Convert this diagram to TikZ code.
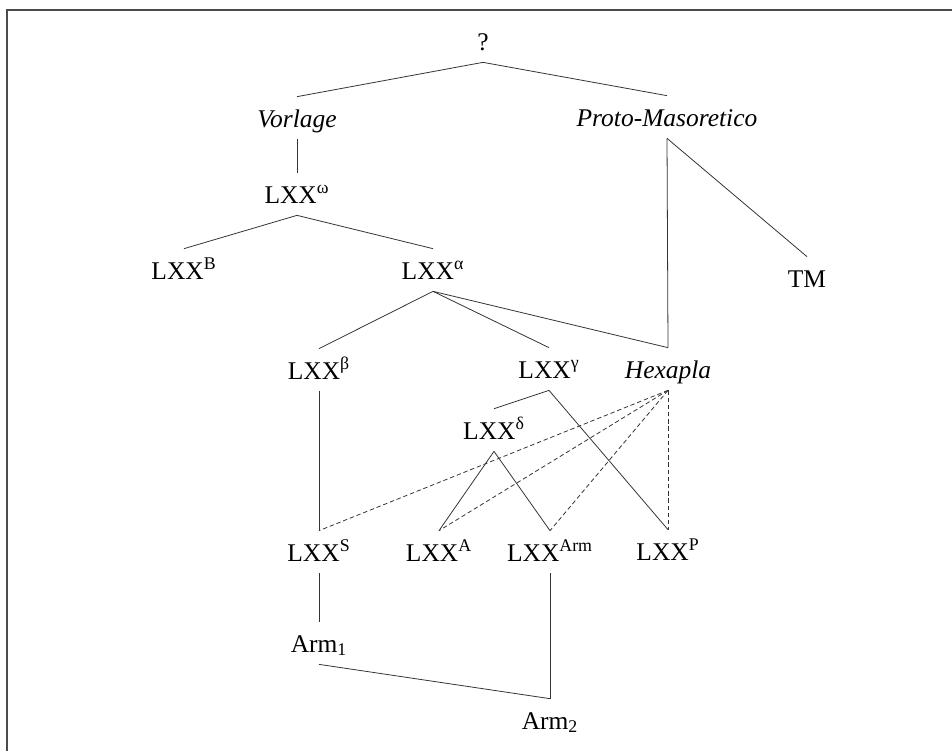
\documentclass[tikz,border=0pt]{standalone}
\usepackage{fontspec}
\setmainfont{Liberation Serif}
\begin{document}
\begin{tikzpicture}[x=0.02cm, y=-0.02cm,
   every node/.style={font=\fontsize{14.5}{17}\selectfont, text height=0.46cm,
                      text depth=0.1cm, inner ysep=0.14cm, inner xsep=0pt},
   link/.style={draw=black!80, line width=0.45pt},
   hexlink/.style={link, dash pattern=on 2.5pt off 1.6pt}]

\useasboundingbox (0,0) rectangle (952,751);
\draw[black!70, line width=0.8pt] (952,10) -- (7,10) -- (7,751);

\node (q)       at (483,41)  {?};
\node (vorlage) at (297,118) {\itshape Vorlage};
\node (proto)   at (667,117) {\itshape Proto-Masoretico};
\node (omega)   at (297,194) {LXX\textsuperscript{ω}};
\node (lxxB)    at (184,270) {LXX\textsuperscript{B}};
\node (alpha)   at (433,270) {LXX\textsuperscript{α}};
\node (tm)      at (807,278) {TM};
\node (beta)    at (319,370) {LXX\textsuperscript{β}};
\node (gamma)   at (549,369) {LXX\textsuperscript{γ}};
\node (hexapla) at (668,369) {\itshape Hexapla};
\node (delta)   at (494,430) {LXX\textsuperscript{δ}};
\node (lxxS)    at (319,552) {LXX\textsuperscript{S}};
\node (lxxA)    at (439,552) {LXX\textsuperscript{A}};
\node (lxxArm)  at (550,552) {LXX\textsuperscript{Arm}};
\node (lxxP)    at (668,551) {LXX\textsuperscript{P}};
\node (arm1)    at (319,643) {Arm\textsubscript{1}};
\node (arm2)    at (550,720) {Arm\textsubscript{2}};

\draw[link] (q.south) -- (vorlage.north);
\draw[link] (q.south) -- (proto.north);
\draw[link] (vorlage.south) -- (omega.north);
\draw[link] (proto.south) -- (tm.north);
\draw[link] (proto.south) -- (hexapla.north);
\draw[link] (omega.south) -- (lxxB.north);
\draw[link] (omega.south) -- (alpha.north);
\draw[link] (alpha.south) -- (beta.north);
\draw[link] (alpha.south) -- (gamma.north);
\draw[link] (alpha.south) -- (hexapla.north);
\draw[link] (gamma.south) -- (delta.north);
\draw[link] (gamma.south) -- (lxxP.north);
\draw[link] (delta.south) -- (lxxA.north);
\draw[link] (delta.south) -- (lxxArm.north);
\draw[link] (beta.south) -- (lxxS.north);
\draw[link] (lxxS.south) -- (arm1.north);
\draw[link] (arm1.south) -- (arm2.north);
\draw[link] (lxxArm.south) -- (arm2.north);

\foreach \t in {lxxS,lxxA,lxxArm,lxxP}
  \draw[hexlink] (hexapla.south) -- (\t.north);

\end{tikzpicture}
\end{document}
